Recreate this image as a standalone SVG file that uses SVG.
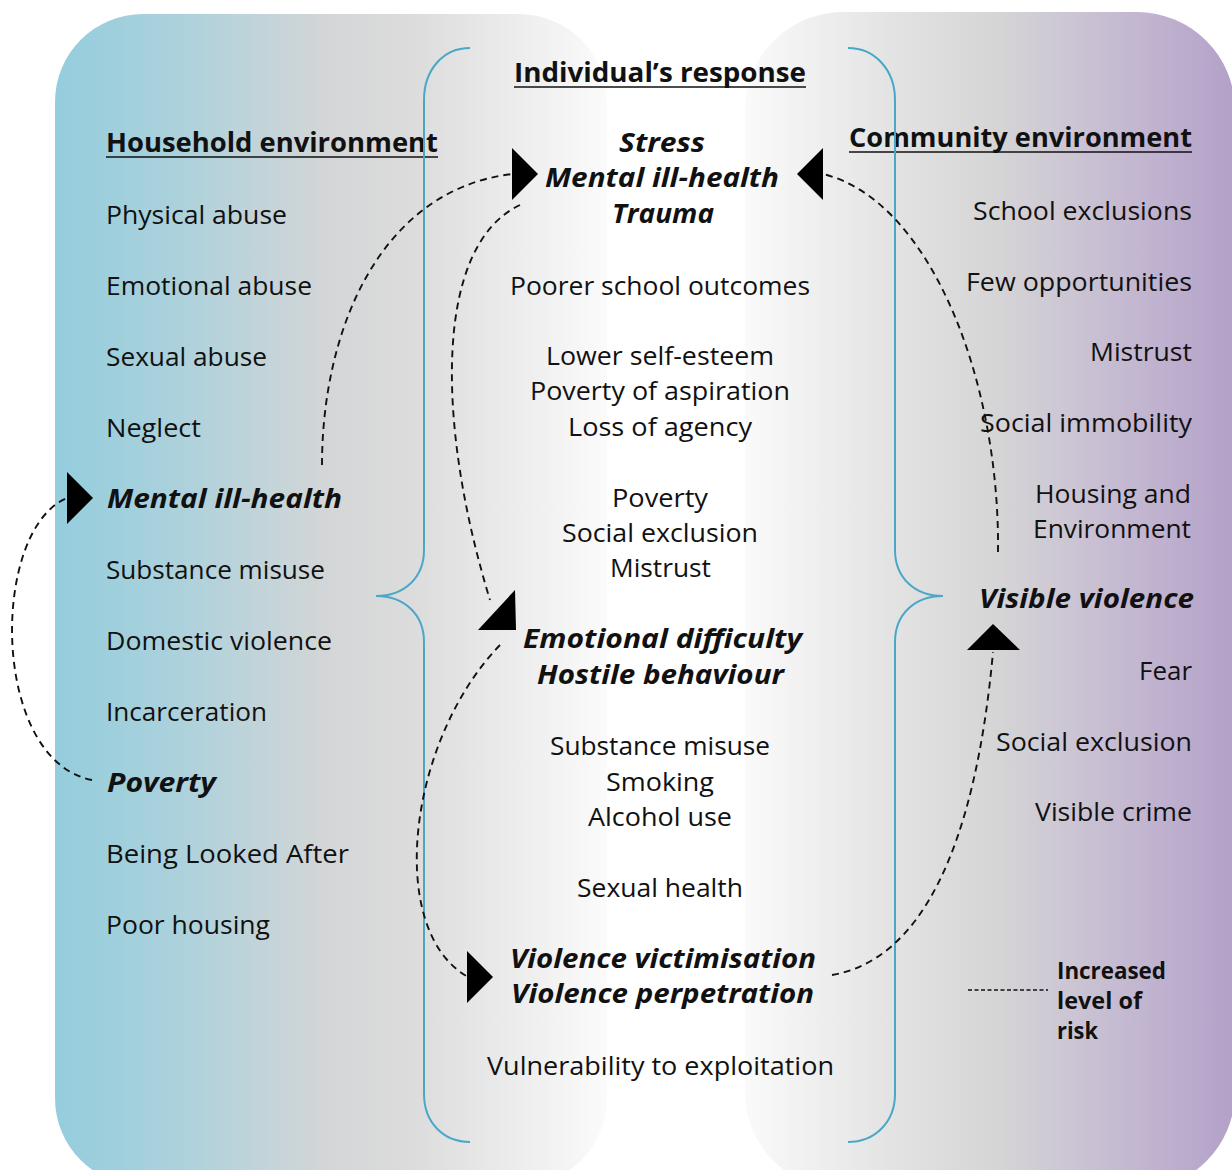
<svg xmlns="http://www.w3.org/2000/svg" width="1232" height="1170" viewBox="0 0 1232 1170">
<defs>
<linearGradient id="gL" gradientUnits="userSpaceOnUse" x1="55" y1="0" x2="607" y2="0">
<stop offset="0" stop-color="#94cddd"/>
<stop offset="0.2" stop-color="#a9d1dc"/>
<stop offset="0.5" stop-color="#d4d6d7"/>
<stop offset="0.65" stop-color="#dcdcdc"/>
<stop offset="0.82" stop-color="#ebebeb"/>
<stop offset="1" stop-color="#fbfbfb"/>
</linearGradient>
<linearGradient id="gR" gradientUnits="userSpaceOnUse" x1="745" y1="0" x2="1235" y2="0">
<stop offset="0" stop-color="#fafafa"/>
<stop offset="0.3" stop-color="#e3e3e3"/>
<stop offset="0.5" stop-color="#d6d6d6"/>
<stop offset="0.65" stop-color="#cdc7d4"/>
<stop offset="0.85" stop-color="#bfb1cf"/>
<stop offset="1" stop-color="#b3a1c8"/>
</linearGradient>
<style>
text{font-family:"Open Sans","Noto Sans","Liberation Sans",sans-serif;fill:#111;}
.r{font-size:26px;}
.h{font-size:26px;font-weight:700;}
.bi{font-size:27px;font-weight:700;font-style:italic;}
.lg{font-size:23px;font-weight:700;}
.ul{stroke:#111;stroke-width:1.6;}
.brace{fill:none;stroke:#4aa8c6;stroke-width:2;}
.dash{fill:none;stroke:#111;stroke-width:1.9;stroke-dasharray:7 5;}
.head{fill:#000;}
</style>
</defs>
<rect width="1232" height="1170" fill="#ffffff"/>
<g id="backgrounds">
<rect x="55" y="14" width="552" height="1172" rx="88" fill="url(#gL)"/>
<rect x="745" y="12" width="490" height="1178" rx="98" fill="url(#gR)"/>
</g>
<g id="household">
<text class="h" x="106" y="152" textLength="332" lengthAdjust="spacingAndGlyphs">Household environment</text>
<line class="ul" x1="106" y1="157" x2="438" y2="157"/>
<text class="r" x="106" y="224" textLength="181" lengthAdjust="spacingAndGlyphs">Physical abuse</text>
<text class="r" x="106" y="295" textLength="206" lengthAdjust="spacingAndGlyphs">Emotional abuse</text>
<text class="r" x="106" y="366" textLength="161" lengthAdjust="spacingAndGlyphs">Sexual abuse</text>
<text class="r" x="106" y="437" textLength="95" lengthAdjust="spacingAndGlyphs">Neglect</text>
<text class="bi" x="107" y="508" textLength="235" lengthAdjust="spacingAndGlyphs">Mental ill-health</text>
<text class="r" x="106" y="579" textLength="219" lengthAdjust="spacingAndGlyphs">Substance misuse</text>
<text class="r" x="106" y="650" textLength="226" lengthAdjust="spacingAndGlyphs">Domestic violence</text>
<text class="r" x="106" y="721" textLength="161" lengthAdjust="spacingAndGlyphs">Incarceration</text>
<text class="bi" x="107" y="792" textLength="109" lengthAdjust="spacingAndGlyphs">Poverty</text>
<text class="r" x="106" y="863" textLength="243" lengthAdjust="spacingAndGlyphs">Being Looked After</text>
<text class="r" x="106" y="934" textLength="164" lengthAdjust="spacingAndGlyphs">Poor housing</text>
</g>
<g id="individual">
<text class="h" x="514" y="82" textLength="292" lengthAdjust="spacingAndGlyphs">Individual’s response</text>
<line class="ul" x1="514" y1="87" x2="806" y2="87"/>
<text class="bi" x="619" y="152" textLength="86" lengthAdjust="spacingAndGlyphs">Stress</text>
<text class="bi" x="545" y="187" textLength="234" lengthAdjust="spacingAndGlyphs">Mental ill-health</text>
<text class="bi" x="612" y="223" textLength="102" lengthAdjust="spacingAndGlyphs">Trauma</text>
<text class="r" x="510" y="295" textLength="300" lengthAdjust="spacingAndGlyphs">Poorer school outcomes</text>
<text class="r" x="546" y="365" textLength="228" lengthAdjust="spacingAndGlyphs">Lower self-esteem</text>
<text class="r" x="530" y="400" textLength="260" lengthAdjust="spacingAndGlyphs">Poverty of aspiration</text>
<text class="r" x="568" y="436" textLength="184" lengthAdjust="spacingAndGlyphs">Loss of agency</text>
<text class="r" x="612" y="507" textLength="96" lengthAdjust="spacingAndGlyphs">Poverty</text>
<text class="r" x="562" y="542" textLength="196" lengthAdjust="spacingAndGlyphs">Social exclusion</text>
<text class="r" x="610" y="577" textLength="101" lengthAdjust="spacingAndGlyphs">Mistrust</text>
<text class="bi" x="523" y="648" textLength="279" lengthAdjust="spacingAndGlyphs">Emotional difficulty</text>
<text class="bi" x="537" y="684" textLength="247" lengthAdjust="spacingAndGlyphs">Hostile behaviour</text>
<text class="r" x="550" y="755" textLength="220" lengthAdjust="spacingAndGlyphs">Substance misuse</text>
<text class="r" x="606" y="791" textLength="108" lengthAdjust="spacingAndGlyphs">Smoking</text>
<text class="r" x="588" y="826" textLength="144" lengthAdjust="spacingAndGlyphs">Alcohol use</text>
<text class="r" x="577" y="897" textLength="166" lengthAdjust="spacingAndGlyphs">Sexual health</text>
<text class="bi" x="510" y="968" textLength="306" lengthAdjust="spacingAndGlyphs">Violence victimisation</text>
<text class="bi" x="511" y="1003" textLength="303" lengthAdjust="spacingAndGlyphs">Violence perpetration</text>
<text class="r" x="487" y="1075" textLength="347" lengthAdjust="spacingAndGlyphs">Vulnerability to exploitation</text>
</g>
<g id="community">
<text class="h" x="849" y="147" textLength="343" lengthAdjust="spacingAndGlyphs">Community environment</text>
<line class="ul" x1="849" y1="152" x2="1192" y2="152"/>
<text class="r" x="973" y="220" textLength="219" lengthAdjust="spacingAndGlyphs">School exclusions</text>
<text class="r" x="966" y="291" textLength="226" lengthAdjust="spacingAndGlyphs">Few opportunities</text>
<text class="r" x="1090" y="361" textLength="102" lengthAdjust="spacingAndGlyphs">Mistrust</text>
<text class="r" x="980" y="432" textLength="212" lengthAdjust="spacingAndGlyphs">Social immobility</text>
<text class="r" x="1035" y="503" textLength="156" lengthAdjust="spacingAndGlyphs">Housing and</text>
<text class="r" x="1033" y="538" textLength="158" lengthAdjust="spacingAndGlyphs">Environment</text>
<text class="bi" x="979" y="608" textLength="215" lengthAdjust="spacingAndGlyphs">Visible violence</text>
<text class="r" x="1139" y="680" textLength="53" lengthAdjust="spacingAndGlyphs">Fear</text>
<text class="r" x="996" y="751" textLength="196" lengthAdjust="spacingAndGlyphs">Social exclusion</text>
<text class="r" x="1035" y="821" textLength="157" lengthAdjust="spacingAndGlyphs">Visible crime</text>
</g>
<g id="braces">
<path class="brace" d="M470 48 C443 48 424 70 424 100 L424 550 C424 578 404 596 376 596 C404 596 424 614 424 642 L424 1094 C424 1122 443 1142 470 1142"/>
<path class="brace" d="M848 48 C875 48 895 70 895 100 L895 550 C895 578 915 596 943 596 C915 596 895 614 895 642 L895 1094 C895 1122 875 1142 848 1142"/>
</g>
<g id="connectors">
<path class="dash" d="M322 465 C322 330 380 190 512 174"/>
<path class="dash" d="M520 205 C435 245 435 420 490 600"/>
<path class="dash" d="M500 645 C408 740 385 930 468 977"/>
<path class="dash" d="M832 975 C920 960 975 850 993 652"/>
<path class="dash" d="M998 552 C1000 380 930 200 823 174"/>
<path class="dash" d="M92 780 C-10 760 -10 530 67 498"/>
<polygon class="head" points="512,148 538,174 512,200"/>
<polygon class="head" points="515,590 516,630 478,630"/>
<polygon class="head" points="467,951 493,977 467,1003"/>
<polygon class="head" points="967,650 993,624 1020,650"/>
<polygon class="head" points="823,148 797,174 823,200"/>
<polygon class="head" points="67,472 93,498 67,524"/>
</g>
<g id="legend">
<line x1="968" y1="990" x2="1048" y2="990" stroke="#111" stroke-width="1.4" stroke-dasharray="4 2.5"/>
<text class="lg" x="1057" y="979" textLength="109" lengthAdjust="spacingAndGlyphs">Increased</text>
<text class="lg" x="1057" y="1009" textLength="85" lengthAdjust="spacingAndGlyphs">level of</text>
<text class="lg" x="1057" y="1039" textLength="41" lengthAdjust="spacingAndGlyphs">risk</text>
</g>
</svg>
